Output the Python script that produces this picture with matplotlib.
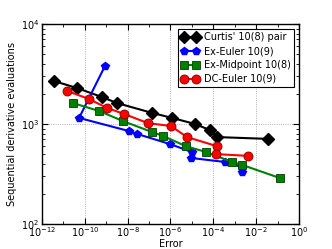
import numpy as np
import matplotlib
matplotlib.use('Agg')
import matplotlib.pyplot as plt
from matplotlib.ticker import LogLocator, NullFormatter

# error / evaluation pairs
curtis_err = [3.6e-12, 4.3e-11, 6.3e-10, 3.2e-9, 1.4e-7, 1.2e-6, 1.4e-5, 6.9e-5, 1.5e-4, 3.5e-2]
curtis_evals = [2690, 2290, 1860, 1620, 1290, 1150, 1000, 870, 740, 710]

euler_err = [8.7e-10, 5.4e-11, 1.15e-8, 2.8e-8, 9.5e-7, 1.0e-5, 9.5e-6, 3.5e-4, 2.2e-3, 2.2e-3]
euler_evals = [3800, 1150, 850, 795, 630, 525, 457, 417, 372, 331]

midpoint_err = [2.8e-11, 4.6e-10, 6.0e-9, 1.4e-7, 4.5e-7, 5.2e-6, 4.6e-5, 7.4e-4, 2.2e-3, 1.3e-1]
midpoint_evals = [1620, 1350, 1070, 830, 760, 600, 525, 417, 390, 288]

dc_err = [1.5e-11, 1.55e-10, 1.07e-9, 6.8e-9, 8.9e-8, 1.05e-6, 5.9e-6, 1.5e-4, 1.35e-4, 4.2e-3]
dc_evals = [2140, 1780, 1450, 1260, 1020, 955, 740, 600, 500, 480]

plt.rcParams['font.family'] = 'DejaVu Sans'
plt.rcParams['xtick.direction'] = 'in'
plt.rcParams['ytick.direction'] = 'in'
plt.rcParams['xtick.top'] = True
plt.rcParams['ytick.right'] = True
plt.rcParams['mathtext.default'] = 'regular'

fig = plt.figure(figsize=(3.32, 2.49), dpi=100)
ax = fig.add_axes([0.1265, 0.1004, 0.774, 0.8032])

ax.loglog(curtis_err, curtis_evals, color='k', marker='D', ms=6.5, lw=1.5,
          label="Curtis' 10(8) pair")
ax.loglog(euler_err, euler_evals, color='b', marker='p', ms=6, lw=1.5,
          mec='b', label='Ex-Euler 10(9)')
ax.loglog(midpoint_err, midpoint_evals, color='g', marker='s', ms=6, lw=1.5,
          mec='#004000', mew=0.6, label='Ex-Midpoint 10(8)')
ax.loglog(dc_err, dc_evals, color='r', marker='o', ms=6.5, lw=1.5,
          mec='#800000', mew=0.6, label='DC-Euler 10(9)')

ax.set_xlim(1e-12, 1e0)
ax.set_ylim(1e2, 1e4)
ax.xaxis.set_major_locator(LogLocator(base=100.0, numticks=10))
ax.xaxis.set_minor_locator(LogLocator(base=10.0, numticks=20))
ax.xaxis.set_minor_formatter(NullFormatter())
ax.tick_params(which='major', length=4, labelsize=7)
ax.tick_params(axis='x', which='major', pad=1)
ax.tick_params(axis='y', which='major', pad=2)
ax.tick_params(which='minor', length=2)
ax.grid(True, which='major', linestyle=':', color='0.6', lw=0.6)

for s in ax.spines.values():
    s.set_linewidth(1.0)

ax.set_xlabel('Error', fontsize=7, labelpad=0)
ax.set_ylabel('Sequential derivative evaluations', fontsize=7, labelpad=3)

leg = ax.legend(loc='upper right', fontsize=7, numpoints=2, handlelength=1.8,
                borderpad=0.35, labelspacing=0.4, handletextpad=0.5,
                fancybox=False, framealpha=1, edgecolor='k',
                borderaxespad=0.5)
leg.get_frame().set_linewidth(0.8)

fig.savefig('out.png', dpi=100)
